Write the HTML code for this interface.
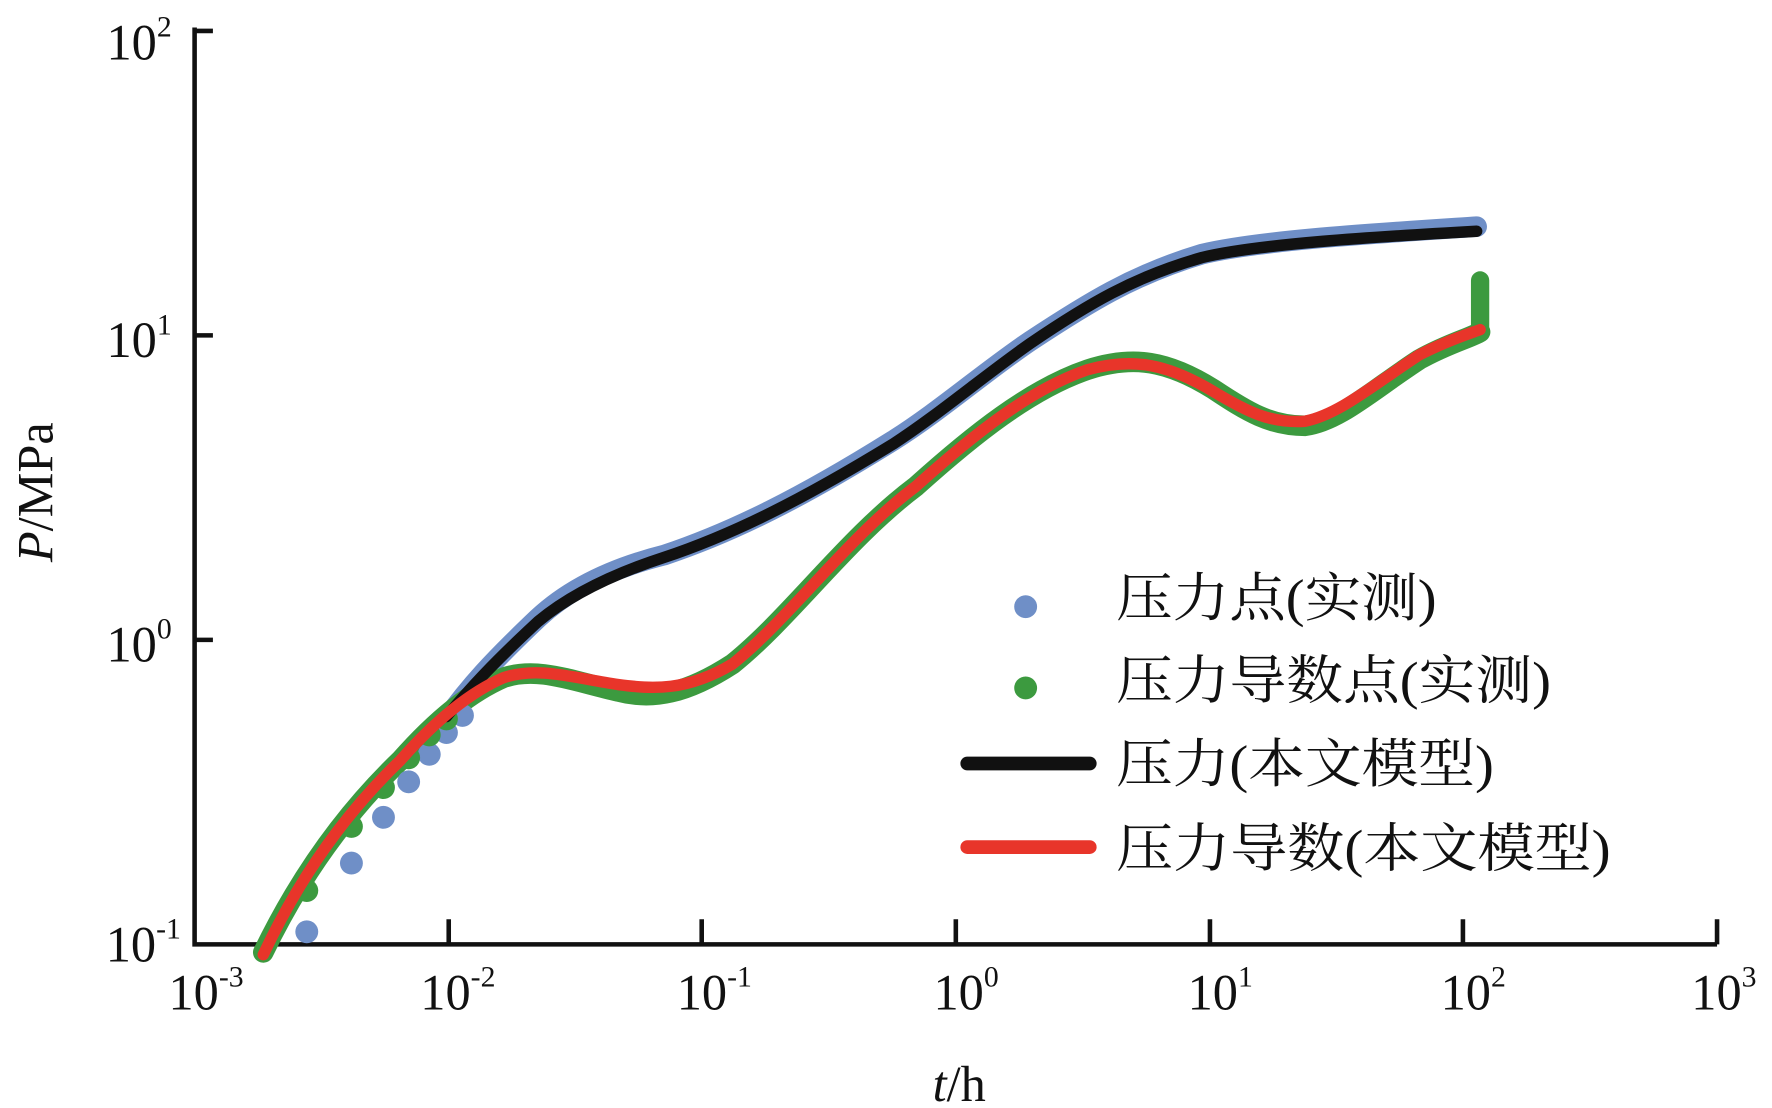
<!DOCTYPE html>
<html><head><meta charset="utf-8"><style>html,body{margin:0;padding:0;background:#fff}svg{display:block}</style></head>
<body>
<svg width="1772" height="1108" viewBox="0 0 1772 1108" xmlns="http://www.w3.org/2000/svg">
<g transform="scale(1.1447)" font-family="'Liberation Serif',serif" fill="none">
<!-- axes -->
<path d="M170 24 V825 H1500" stroke="#111" stroke-width="4"/>
<path d="M170 27 H186 M170 293 H186 M170 559 H186" stroke="#111" stroke-width="4"/>
<path d="M392 825 V803 M613 825 V803 M835 825 V803 M1057 825 V803 M1278 825 V803 M1500 825 V803" stroke="#111" stroke-width="4"/>
<g fill="#111" font-size="44" text-anchor="end">
<text x="150" y="52">10<tspan font-size="26" dy="-20">2</tspan></text>
<text x="150" y="312">10<tspan font-size="26" dy="-20">1</tspan></text>
<text x="150" y="578">10<tspan font-size="26" dy="-20">0</tspan></text>
<text x="158" y="840">10<tspan font-size="26" dy="-20">-1</tspan></text>
</g>
<g fill="#111" font-size="44" text-anchor="middle">
<text x="180" y="882">10<tspan font-size="26" dy="-20">-3</tspan></text>
<text x="400" y="882">10<tspan font-size="26" dy="-20">-2</tspan></text>
<text x="624" y="882">10<tspan font-size="26" dy="-20">-1</tspan></text>
<text x="844" y="882">10<tspan font-size="26" dy="-20">0</tspan></text>
<text x="1066" y="882">10<tspan font-size="26" dy="-20">1</tspan></text>
<text x="1287" y="882">10<tspan font-size="26" dy="-20">2</tspan></text>
<text x="1506" y="882">10<tspan font-size="26" dy="-20">3</tspan></text>
<text x="838" y="962"><tspan font-style="italic">t</tspan>/h</text>
</g>
<text transform="translate(46 430) rotate(-90)" fill="#111" font-size="44" text-anchor="middle"><tspan font-style="italic">P</tspan>/MPa</text>

<!-- measured bands -->
<path d="M390 628 C410 600 430 578 470 540 C500 512 540 495 580 485 C640 465 700 435 780 385 C820 360 860 325 900 298 C950 265 990 240 1050 222 C1100 210 1200 204 1290 198" stroke="#6f8fc7" stroke-width="18" stroke-linecap="round"/>
<path d="M230 832 C260 770 300 712 350 664 C380 630 410 605 440 592 C470 582 500 595 540 604 C570 612 600 606 640 580 C690 540 740 470 800 425 C850 380 900 340 950 323 C990 310 1020 315 1060 340 C1090 360 1110 372 1140 372 C1170 368 1200 340 1240 314 C1265 300 1285 295 1293 290" stroke="#3c9a3f" stroke-width="18" stroke-linecap="round"/>
<path d="M1293 290 V245" stroke="#3c9a3f" stroke-width="16" stroke-linecap="round"/>
<g fill="#6f8fc7">
<circle cx="268" cy="814" r="10"/><circle cx="307" cy="754" r="10"/><circle cx="335" cy="714" r="10"/><circle cx="357" cy="683" r="10"/><circle cx="375" cy="659" r="10"/><circle cx="390" cy="640" r="10"/><circle cx="404" cy="625" r="10"/>
</g>
<g fill="#3c9a3f">
<circle cx="268" cy="778" r="10"/><circle cx="307" cy="722" r="10"/><circle cx="335" cy="688" r="10"/><circle cx="357" cy="662" r="10"/><circle cx="375" cy="642" r="10"/><circle cx="390" cy="628" r="10"/>
</g>
<!-- model lines -->
<path d="M390 626 C410 602 430 580 470 543 C500 518 540 500 580 487 C640 467 700 437 780 388 C820 362 860 328 900 300 C950 266 990 242 1050 225 C1100 213 1200 207 1290 202" stroke="#111" stroke-width="10" stroke-linecap="round"/>
<path d="M230 834 C260 770 300 712 350 664 C380 630 410 605 440 592 C470 582 500 592 540 598 C570 602 600 604 640 580 C690 540 740 470 800 425 C850 380 900 340 950 323 C990 312 1020 318 1060 342 C1090 360 1110 370 1140 368 C1170 362 1200 336 1240 310 C1265 297 1285 291 1293 288" stroke="#e8352a" stroke-width="10" stroke-linecap="round"/>

<!-- legend -->
<circle cx="896" cy="530" r="10" fill="#6f8fc7"/>
<circle cx="896" cy="601" r="10" fill="#3c9a3f"/>
<path d="M845 667 H952" stroke="#111" stroke-width="12" stroke-linecap="round"/>
<path d="M845 740 H952" stroke="#e8352a" stroke-width="12" stroke-linecap="round"/>
<g fill="#111" font-family="'Liberation Serif','Noto Serif CJK SC',serif" font-size="46">
<text x="975" y="538" textLength="280" lengthAdjust="spacingAndGlyphs">压力点(实测)</text>
<text x="975" y="610" textLength="380" lengthAdjust="spacingAndGlyphs">压力导数点(实测)</text>
<text x="975" y="683" textLength="330" lengthAdjust="spacingAndGlyphs">压力(本文模型)</text>
<text x="975" y="757" textLength="432" lengthAdjust="spacingAndGlyphs">压力导数(本文模型)</text>
</g>
</g>
</svg>
</body></html>
